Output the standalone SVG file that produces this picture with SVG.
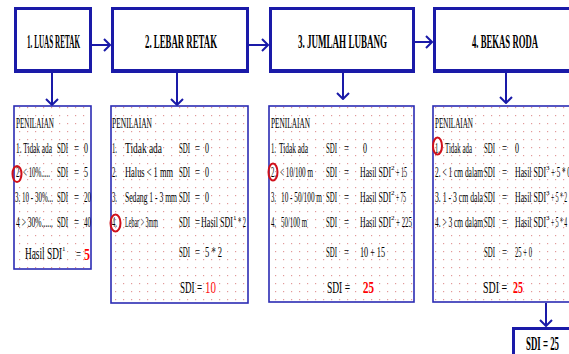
<svg xmlns="http://www.w3.org/2000/svg" width="569" height="354" viewBox="0 0 569 354">
<defs>
<pattern id="dots" width="8" height="8" patternUnits="userSpaceOnUse"><rect x="3" y="3" width="1.2" height="1.2" fill="#e29a9a"/></pattern>
<marker id="ah" viewBox="0 0 8 14" refX="7" refY="7" markerWidth="8" markerHeight="14" markerUnits="userSpaceOnUse" orient="auto"><path d="M1,1 L7,7 L1,13" fill="none" stroke="#1a1aa8" stroke-width="2"/></marker>
</defs>
<style>
.top{fill:#fff;stroke:#1a1aa8;stroke-width:3}
.sh{fill:none;stroke:#1a1aa8;stroke-width:2}
.low{stroke:#2b2bb3;stroke-width:1.6}
.t{font-family:"Liberation Serif",serif;font-size:14px;fill:#000}
.h{font-family:"Liberation Serif",serif;font-size:18px;font-weight:bold;fill:#000}
.b{font-family:"Liberation Serif",serif;font-size:17px;fill:#000}
.s{font-family:"Liberation Serif",serif;font-size:7px;fill:#000}
.r{font-family:"Liberation Serif",serif;font-size:17px;font-weight:bold;fill:#ff0000}
.c{fill:none;stroke:#d0101a;stroke-width:2}
.con{fill:none;stroke:#1a1aa8;stroke-width:2}
</style>
<rect width="569" height="354" fill="#fff"/>

<g id="connectors">
<line class="con" x1="92" y1="45" x2="110" y2="45" marker-end="url(#ah)"/>
<line class="con" x1="249" y1="45" x2="268" y2="45" marker-end="url(#ah)"/>
<line class="con" x1="415" y1="42" x2="432" y2="42" marker-end="url(#ah)"/>
<line class="con" x1="52" y1="73" x2="52" y2="105" marker-end="url(#ah)"/>
<line class="con" x1="177" y1="73" x2="177" y2="105" marker-end="url(#ah)"/>
<line class="con" x1="343" y1="73" x2="343" y2="99" marker-end="url(#ah)"/>
<line class="con" x1="506" y1="73" x2="506" y2="103" marker-end="url(#ah)"/>
<line class="con" x1="546" y1="303" x2="546" y2="326" marker-end="url(#ah)"/>
</g>

<g id="n1">
<rect class="top" x="15.5" y="8.5" width="75" height="62"/>
<path class="sh" d="M14,72 H92 M91,9 V72"/>
<text class="h" x="27" y="48" textLength="53" lengthAdjust="spacingAndGlyphs">1. LUAS RETAK</text>
</g>
<g id="n2">
<rect class="top" x="112.5" y="8.5" width="135" height="62"/>
<path class="sh" d="M111,72 H249 M248,9 V72"/>
<text class="h" x="145" y="48" textLength="72" lengthAdjust="spacingAndGlyphs">2. LEBAR RETAK</text>
</g>
<g id="n3">
<rect class="top" x="270.5" y="8.5" width="143" height="62"/>
<path class="sh" d="M269,72 H415 M414,9 V72"/>
<text class="h" x="298" y="48" textLength="89" lengthAdjust="spacingAndGlyphs">3. JUMLAH LUBANG</text>
</g>
<g id="n4">
<rect class="top" x="434.5" y="8.5" width="140" height="62"/>
<path class="sh" d="M433,72 H575"/>
<text class="h" x="472" y="48" textLength="66" lengthAdjust="spacingAndGlyphs">4. BEKAS RODA</text>
</g>

<g id="pA">
<rect x="14" y="106" width="77" height="163" fill="#fff"/>
<rect class="low" x="14" y="106" width="77" height="163" fill="url(#dots)"/>
<g class="t">
<text x="16" y="128" textLength="38" lengthAdjust="spacingAndGlyphs">PENILAIAN</text>
<text x="16" y="153" textLength="36" lengthAdjust="spacingAndGlyphs">1. Tidak ada</text>
<text x="16" y="177" textLength="5" lengthAdjust="spacingAndGlyphs">2.</text>
<text x="23" y="177" textLength="27" lengthAdjust="spacingAndGlyphs">&lt; 10%.....</text>
<text x="15" y="202" textLength="38" lengthAdjust="spacingAndGlyphs">3. 10 - 30%...</text>
<text x="16" y="227" textLength="37" lengthAdjust="spacingAndGlyphs">4 &gt; 30%......</text>
<text x="57" y="153" textLength="11" lengthAdjust="spacingAndGlyphs">SDI</text><text x="74" y="153" textLength="5" lengthAdjust="spacingAndGlyphs">=</text><text x="84" y="153" textLength="4" lengthAdjust="spacingAndGlyphs">0</text>
<text x="57" y="177" textLength="11" lengthAdjust="spacingAndGlyphs">SDI</text><text x="74" y="177" textLength="5" lengthAdjust="spacingAndGlyphs">=</text><text x="84" y="177" textLength="4" lengthAdjust="spacingAndGlyphs">5</text>
<text x="57" y="202" textLength="11" lengthAdjust="spacingAndGlyphs">SDI</text><text x="74" y="202" textLength="5" lengthAdjust="spacingAndGlyphs">=</text><text x="84" y="202" textLength="7" lengthAdjust="spacingAndGlyphs">20</text>
<text x="57" y="227" textLength="11" lengthAdjust="spacingAndGlyphs">SDI</text><text x="74" y="227" textLength="5" lengthAdjust="spacingAndGlyphs">=</text><text x="84" y="227" textLength="7" lengthAdjust="spacingAndGlyphs">40</text>
</g>
<text class="b" x="25" y="259" textLength="37" lengthAdjust="spacingAndGlyphs">Hasil SDI</text>
<text class="s" x="62" y="251">1</text>
<text class="t" x="76" y="259" textLength="5" lengthAdjust="spacingAndGlyphs">=</text>
<text class="r" x="84" y="260" textLength="6" lengthAdjust="spacingAndGlyphs">5</text>
<ellipse class="c" cx="17" cy="174" rx="4.5" ry="8"/>
</g>

<g id="pB">
<rect x="111" y="106" width="137" height="197" fill="#fff"/>
<rect class="low" x="111" y="106" width="137" height="197" fill="url(#dots)"/>
<g class="t">
<text x="112" y="128" textLength="40" lengthAdjust="spacingAndGlyphs">PENILAIAN</text>
<text x="112" y="153" textLength="5" lengthAdjust="spacingAndGlyphs">1.</text>
<text x="125" y="153" textLength="37" lengthAdjust="spacingAndGlyphs">Tidak ada</text>
<text x="112" y="177" textLength="5" lengthAdjust="spacingAndGlyphs">2.</text>
<text x="125" y="177" textLength="48" lengthAdjust="spacingAndGlyphs">Halus &lt; 1 mm</text>
<text x="112" y="202" textLength="5" lengthAdjust="spacingAndGlyphs">3.</text>
<text x="125" y="202" textLength="52" lengthAdjust="spacingAndGlyphs">Sedang 1 - 3 mm</text>
<text x="112" y="227" textLength="5" lengthAdjust="spacingAndGlyphs">4.</text>
<text x="125" y="227" textLength="33" lengthAdjust="spacingAndGlyphs">Lebar &gt; 3mm</text>
<text x="179" y="153" textLength="11" lengthAdjust="spacingAndGlyphs">SDI</text><text x="195" y="153" textLength="5" lengthAdjust="spacingAndGlyphs">=</text><text x="205" y="153" textLength="4" lengthAdjust="spacingAndGlyphs">0</text>
<text x="179" y="177" textLength="11" lengthAdjust="spacingAndGlyphs">SDI</text><text x="195" y="177" textLength="5" lengthAdjust="spacingAndGlyphs">=</text><text x="205" y="177" textLength="4" lengthAdjust="spacingAndGlyphs">0</text>
<text x="179" y="202" textLength="11" lengthAdjust="spacingAndGlyphs">SDI</text><text x="195" y="202" textLength="5" lengthAdjust="spacingAndGlyphs">=</text><text x="205" y="202" textLength="4" lengthAdjust="spacingAndGlyphs">0</text>
<text x="179" y="227" textLength="11" lengthAdjust="spacingAndGlyphs">SDI</text><text x="195" y="227" textLength="5" lengthAdjust="spacingAndGlyphs">=</text>
<text x="201" y="227" textLength="32" lengthAdjust="spacingAndGlyphs">Hasil SDI</text>
<text x="238" y="227" textLength="8" lengthAdjust="spacingAndGlyphs">* 2</text>
<text x="179" y="257" textLength="11" lengthAdjust="spacingAndGlyphs">SDI</text><text x="195" y="257" textLength="5" lengthAdjust="spacingAndGlyphs">=</text>
<text x="205" y="257" textLength="17" lengthAdjust="spacingAndGlyphs">5 * 2</text>
</g>
<text class="s" x="233" y="220">1</text>
<text class="b" x="180" y="293" textLength="22" lengthAdjust="spacingAndGlyphs">SDI =</text>
<text class="b" x="205" y="293" textLength="11" lengthAdjust="spacingAndGlyphs" style="fill:#ff1010">10</text>
<ellipse class="c" cx="115.5" cy="223" rx="5" ry="8.5"/>
</g>

<g id="pC">
<rect x="269" y="106" width="145" height="196" fill="#fff"/>
<rect class="low" x="269" y="106" width="145" height="196" fill="url(#dots)"/>
<g class="t">
<text x="271" y="128" textLength="39" lengthAdjust="spacingAndGlyphs">PENILAIAN</text>
<text x="271" y="153" textLength="5" lengthAdjust="spacingAndGlyphs">1.</text>
<text x="279" y="153" textLength="29" lengthAdjust="spacingAndGlyphs">Tidak ada</text>
<text x="271" y="177" textLength="5" lengthAdjust="spacingAndGlyphs">2.</text>
<text x="280" y="177" textLength="33" lengthAdjust="spacingAndGlyphs">&lt; 10/100 m</text>
<text x="271" y="202" textLength="5" lengthAdjust="spacingAndGlyphs">3.</text>
<text x="281" y="202" textLength="41" lengthAdjust="spacingAndGlyphs">10 - 50/100 m</text>
<text x="271" y="227" textLength="5" lengthAdjust="spacingAndGlyphs">4.</text>
<text x="281" y="227" textLength="26" lengthAdjust="spacingAndGlyphs">50/100 m</text>
<text x="326" y="153" textLength="11" lengthAdjust="spacingAndGlyphs">SDI</text><text x="344" y="153" textLength="5" lengthAdjust="spacingAndGlyphs">=</text><text x="363" y="153" textLength="4" lengthAdjust="spacingAndGlyphs">0</text>
<text x="326" y="177" textLength="11" lengthAdjust="spacingAndGlyphs">SDI</text><text x="344" y="177" textLength="5" lengthAdjust="spacingAndGlyphs">=</text>
<text x="360" y="177" textLength="31" lengthAdjust="spacingAndGlyphs">Hasil SDI</text><text x="396" y="177" textLength="11" lengthAdjust="spacingAndGlyphs">+ 15</text>
<text x="326" y="202" textLength="11" lengthAdjust="spacingAndGlyphs">SDI</text><text x="344" y="202" textLength="5" lengthAdjust="spacingAndGlyphs">=</text>
<text x="360" y="202" textLength="31" lengthAdjust="spacingAndGlyphs">Hasil SDI</text><text x="396" y="202" textLength="10" lengthAdjust="spacingAndGlyphs">+ 75</text>
<text x="326" y="227" textLength="11" lengthAdjust="spacingAndGlyphs">SDI</text><text x="344" y="227" textLength="5" lengthAdjust="spacingAndGlyphs">=</text>
<text x="360" y="227" textLength="31" lengthAdjust="spacingAndGlyphs">Hasil SDI</text><text x="396" y="227" textLength="16" lengthAdjust="spacingAndGlyphs">+ 225</text>
<text x="326" y="257" textLength="11" lengthAdjust="spacingAndGlyphs">SDI</text><text x="344" y="257" textLength="5" lengthAdjust="spacingAndGlyphs">=</text>
<text x="360" y="257" textLength="25" lengthAdjust="spacingAndGlyphs">10 + 15</text>
</g>
<text class="s" x="391" y="170">2</text>
<text class="s" x="391" y="195">2</text>
<text class="s" x="391" y="220">2</text>
<text class="b" x="327" y="293" textLength="23" lengthAdjust="spacingAndGlyphs">SDI =</text>
<text class="r" x="363" y="293" textLength="11" lengthAdjust="spacingAndGlyphs">25</text>
<ellipse class="c" cx="273" cy="172" rx="4.5" ry="8.5"/>
</g>

<g id="pD">
<rect x="433" y="106" width="140" height="196" fill="#fff"/>
<rect class="low" x="433" y="106" width="140" height="196" fill="url(#dots)"/>
<g class="t">
<text x="435" y="128" textLength="38" lengthAdjust="spacingAndGlyphs">PENILAIAN</text>
<text x="435" y="153" textLength="5" lengthAdjust="spacingAndGlyphs">1.</text>
<text x="445" y="153" textLength="27" lengthAdjust="spacingAndGlyphs">Tidak ada</text>
<text x="435" y="177" textLength="48" lengthAdjust="spacingAndGlyphs">2. &lt; 1 cm dalam</text>
<text x="435" y="202" textLength="48" lengthAdjust="spacingAndGlyphs">3. 1 - 3 cm dala</text>
<text x="435" y="227" textLength="48" lengthAdjust="spacingAndGlyphs">4. &gt; 3 cm dalam</text>
<text x="484" y="153" textLength="11" lengthAdjust="spacingAndGlyphs">SDI</text><text x="502" y="153" textLength="5" lengthAdjust="spacingAndGlyphs">=</text><text x="515" y="153" textLength="4" lengthAdjust="spacingAndGlyphs">0</text>
<text x="484" y="177" textLength="11" lengthAdjust="spacingAndGlyphs">SDI</text><text x="502" y="177" textLength="5" lengthAdjust="spacingAndGlyphs">=</text>
<text x="515" y="177" textLength="31" lengthAdjust="spacingAndGlyphs">Hasil SDI</text><text x="551" y="177" textLength="25" lengthAdjust="spacingAndGlyphs">+ 5 * 0,5</text>
<text x="484" y="202" textLength="11" lengthAdjust="spacingAndGlyphs">SDI</text><text x="502" y="202" textLength="5" lengthAdjust="spacingAndGlyphs">=</text>
<text x="515" y="202" textLength="31" lengthAdjust="spacingAndGlyphs">Hasil SDI</text><text x="551" y="202" textLength="16" lengthAdjust="spacingAndGlyphs">+ 5 * 2</text>
<text x="484" y="227" textLength="11" lengthAdjust="spacingAndGlyphs">SDI</text><text x="502" y="227" textLength="5" lengthAdjust="spacingAndGlyphs">=</text>
<text x="515" y="227" textLength="31" lengthAdjust="spacingAndGlyphs">Hasil SDI</text><text x="551" y="227" textLength="16" lengthAdjust="spacingAndGlyphs">+ 5 * 4</text>
<text x="484" y="257" textLength="11" lengthAdjust="spacingAndGlyphs">SDI</text><text x="502" y="257" textLength="5" lengthAdjust="spacingAndGlyphs">=</text>
<text x="515" y="257" textLength="17" lengthAdjust="spacingAndGlyphs">25 + 0</text>
</g>
<text class="s" x="546" y="170">3</text>
<text class="s" x="546" y="195">3</text>
<text class="s" x="546" y="220">3</text>
<text class="b" x="483" y="293" textLength="24" lengthAdjust="spacingAndGlyphs">SDI =</text>
<text class="r" x="513" y="293" textLength="10" lengthAdjust="spacingAndGlyphs">25</text>
<ellipse class="c" cx="437.5" cy="146" rx="4.5" ry="8.5"/>
</g>

<g id="final">
<rect class="top" x="513.5" y="328.5" width="70" height="40"/>
<text class="h" x="526" y="350" textLength="33" lengthAdjust="spacingAndGlyphs">SDI = 25</text>
</g>
</svg>
